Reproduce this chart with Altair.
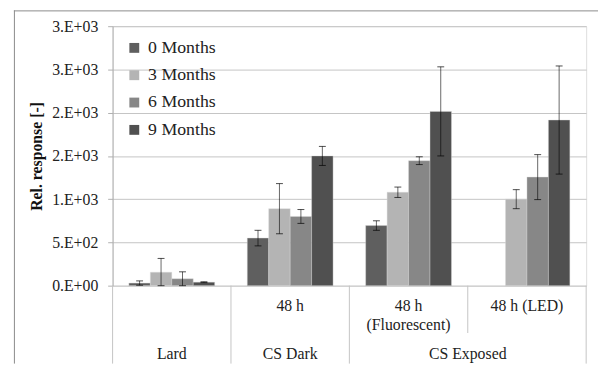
import altair as alt
import pandas as pd

# ---- data ----
groups = ["Lard", "48 h dark", "48 h fluor", "48 h LED"]
months = ["0 Months", "3 Months", "6 Months", "9 Months"]
colors = ["#5f5f5f", "#b4b4b4", "#878787", "#505050"]

values = {
    "Lard":       [30, 155, 80, 40],
    "48 h dark":  [550, 890, 800, 1500],
    "48 h fluor": [695, 1080, 1445, 2015],
    "48 h LED":   [None, 1000, 1255, 1915],
}
errors = {
    "Lard":       [25, 160, 80, 5],
    "48 h dark":  [90, 290, 80, 110],
    "48 h fluor": [55, 60, 45, 515],
    "48 h LED":   [None, 110, 260, 625],
}

tick_values = [0, 500, 1000, 1500, 2000, 2500, 3000]
tick_labels = ["0.E+00", "5.E+02", "1.E+03", "2.E+03", "2.E+03", "3.E+03", "3.E+03"]

row1_keys = ["48 h dark", "48 h fluor", "48 h LED"]
row1_text = ["48 h", "48 h\n(Fluorescent)", "48 h (LED)"]
row2_center_keys = ["Lard", "48 h dark"]
row2_center_text = ["Lard", "CS Dark"]
row2_span_keys = ["48 h LED"]          # label centred on the start of this band
row2_span_text = ["CS Exposed"]

FONT = "Times New Roman, Liberation Serif, serif"
W, H = 480, 263

rows = []
for g in groups:
    for m, v, e in zip(months, values[g], errors[g]):
        if v is None:
            continue
        rows.append({"key": g, "month": m, "value": v,
                     "lo": max(v - e, 0), "hi": v + e})
df = pd.DataFrame(rows)

xs = alt.Scale(domain=groups, paddingInner=0, paddingOuter=0)
xo = alt.Scale(domain=months, paddingInner=0, paddingOuter=0.76)

label_expr = " : ".join(
    f"datum.value == {v} ? '{t}'" for v, t in zip(tick_values, tick_labels)
) + " : ''"

base = alt.Chart(df)

bars = base.mark_bar(stroke="#d8d8d8", strokeWidth=0.4).encode(
    x=alt.X("key:N", scale=xs, axis=None),
    xOffset=alt.XOffset("month:N", scale=xo),
    y=alt.Y("value:Q",
            scale=alt.Scale(domain=[0, 3000], nice=False),
            axis=alt.Axis(values=tick_values, labelExpr=label_expr,
                          grid=True, gridColor="#c4c4c4", gridWidth=1,
                          domainColor="#b0b0b0", tickColor="#b0b0b0",
                          tickSize=5, labelPadding=10,
                          labelFont=FONT, labelFontSize=16, labelColor="#222",
                          title="Rel. response [-]", titleFont=FONT,
                          titleFontSize=16, titleFontWeight="bold",
                          titleColor="#111", titlePadding=7)),
    color=alt.Color("month:N", scale=alt.Scale(domain=months, range=colors),
                    legend=alt.Legend(orient="none", legendX=13, legendY=13,
                                      title=None, symbolType="square",
                                      symbolSize=100, symbolStrokeWidth=0,
                                      labelFont=FONT, labelFontSize=18,
                                      labelColor="#222", labelOffset=5,
                                      rowPadding=9.7, padding=0)),
)

err_rule = base.mark_rule(color="#000", opacity=0.6, strokeWidth=1).encode(
    x=alt.X("key:N", scale=xs),
    xOffset=alt.XOffset("month:N", scale=xo),
    y="lo:Q", y2="hi:Q",
)
cap_lo = base.mark_tick(color="#000", opacity=0.7, thickness=1, size=7,
                        orient="horizontal").encode(
    x=alt.X("key:N", scale=xs),
    xOffset=alt.XOffset("month:N", scale=xo),
    y="lo:Q",
)
cap_hi = base.mark_tick(color="#000", opacity=0.7, thickness=1, size=7,
                        orient="horizontal").encode(
    x=alt.X("key:N", scale=xs),
    xOffset=alt.XOffset("month:N", scale=xo),
    y="hi:Q",
)

# category separators below the plot
sep_full_start = pd.DataFrame({"key": ["Lard", "48 h dark", "48 h fluor"]})
sep_part_start = pd.DataFrame({"key": ["48 h LED"]})
sep_end = pd.DataFrame({"key": ["48 h LED"]})
SEP = "#c4c4c4"
BOTTOM = 342

s1 = alt.Chart(sep_full_start).mark_rule(color=SEP).encode(
    x=alt.X("key:N", scale=xs, bandPosition=0),
    y=alt.value(H), y2=alt.value(BOTTOM))
s2 = alt.Chart(sep_part_start).mark_rule(color=SEP).encode(
    x=alt.X("key:N", scale=xs, bandPosition=0),
    y=alt.value(H), y2=alt.value(311))
s3 = alt.Chart(sep_end).mark_rule(color=SEP).encode(
    x=alt.X("key:N", scale=xs, bandPosition=1),
    y=alt.value(H), y2=alt.value(BOTTOM))

t1 = alt.Chart(pd.DataFrame({"key": row1_keys, "label": row1_text})).mark_text(
    font=FONT, fontSize=16, color="#222", baseline="alphabetic",
    lineBreak="\n", lineHeight=18.5).encode(
    x=alt.X("key:N", scale=xs), y=alt.value(289), text="label:N")
t2 = alt.Chart(pd.DataFrame({"key": row2_center_keys, "label": row2_center_text})).mark_text(
    font=FONT, fontSize=16, color="#222", baseline="alphabetic").encode(
    x=alt.X("key:N", scale=xs), y=alt.value(337), text="label:N")
t3 = alt.Chart(pd.DataFrame({"key": row2_span_keys, "label": row2_span_text})).mark_text(
    font=FONT, fontSize=16, color="#222", baseline="alphabetic").encode(
    x=alt.X("key:N", scale=xs, bandPosition=0), y=alt.value(337), text="label:N")

# outer chart-area frame
frame_top = alt.Chart(pd.DataFrame({"k": [0]})).mark_rule(color="#8a8a8a").encode(
    x=alt.value(-100), x2=alt.value(W + 20), y=alt.value(-15.5))
frame_left = alt.Chart(pd.DataFrame({"k": [0]})).mark_rule(color="#8a8a8a").encode(
    x=alt.value(-99.5), y=alt.value(-16), y2=alt.value(BOTTOM))

chart = alt.layer(
    bars, err_rule, cap_lo, cap_hi, s1, s2, s3, t1, t2, t3, frame_top, frame_left
).properties(
    width=W, height=H,
    autosize=alt.AutoSizeParams(type="none"),
    padding={"left": 106, "top": 16, "right": 12, "bottom": 79},
).configure_view(strokeOpacity=0).configure(background="white", font=FONT)

chart.save("out.html", embed_options={"renderer": "svg", "actions": False})
